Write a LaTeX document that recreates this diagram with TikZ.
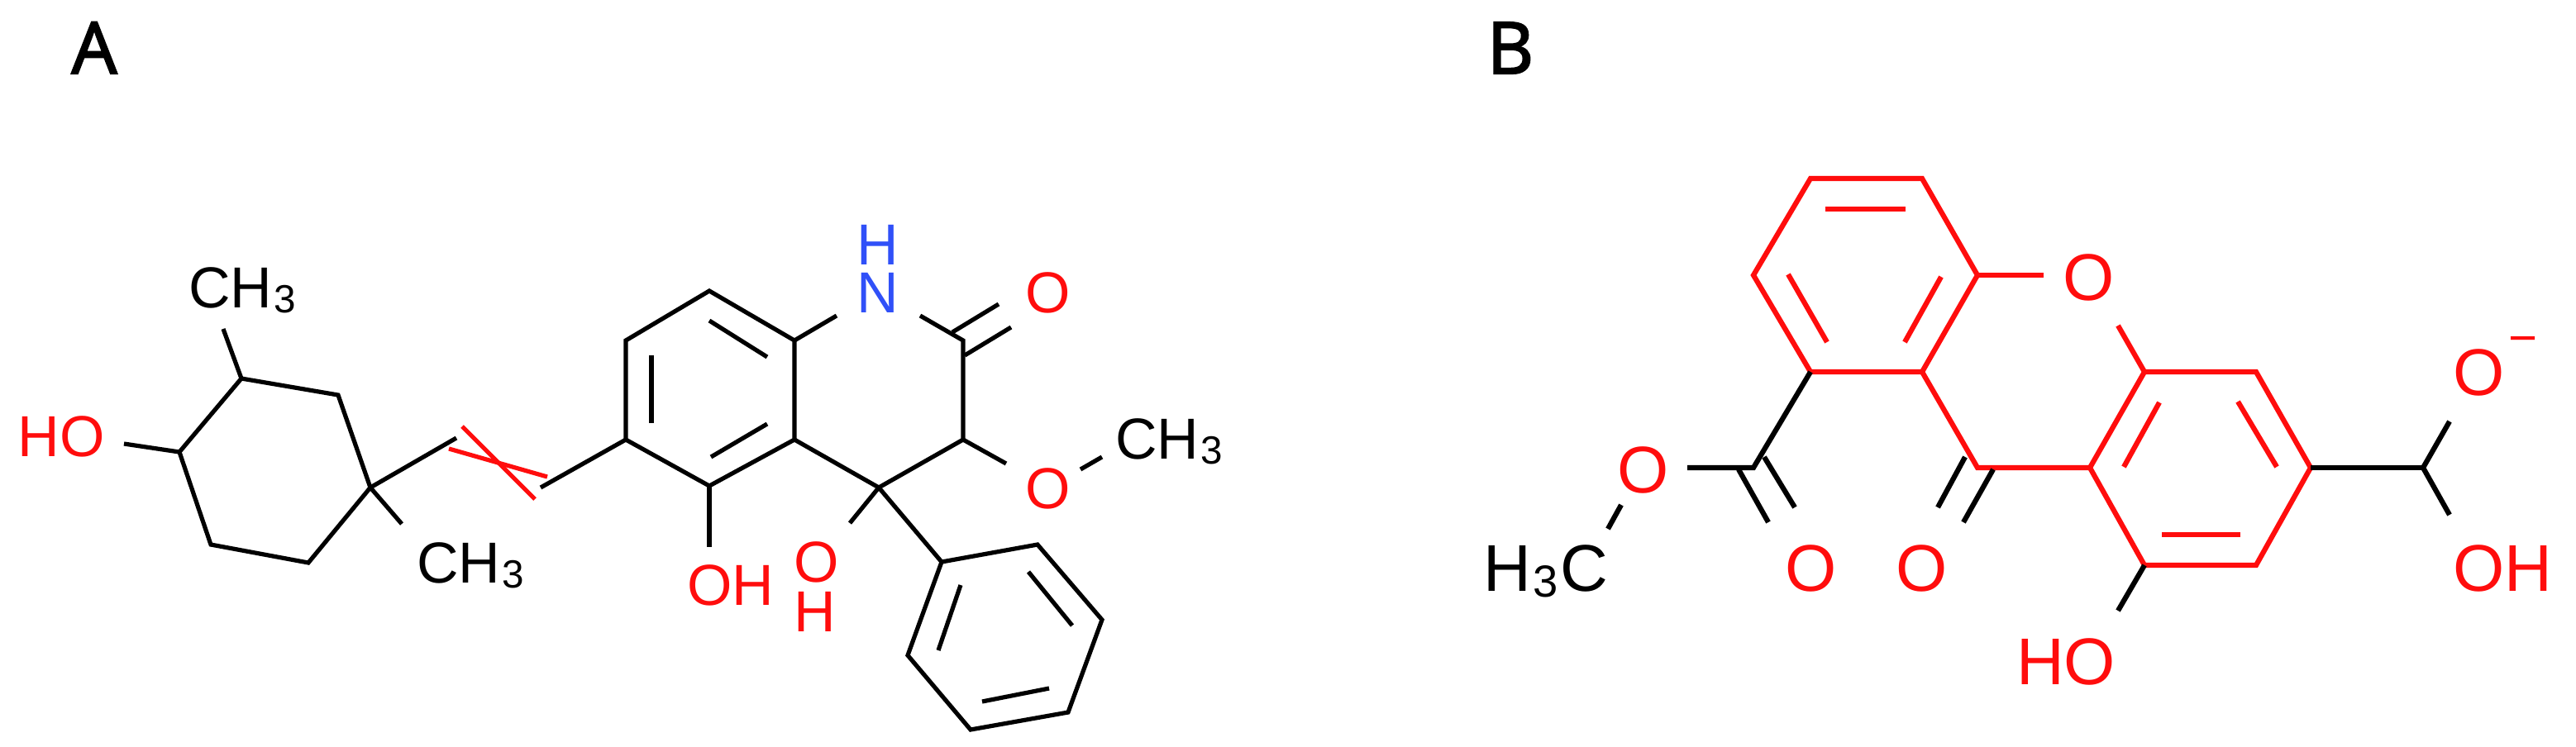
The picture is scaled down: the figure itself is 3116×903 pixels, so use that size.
\documentclass[tikz,border=0pt]{standalone}
\usepackage{fontspec}
\setmainfont{Liberation Sans}
\newfontfamily\panelfont[FakeBold=2.5]{Open Sans}
\definecolor{atomred}{RGB}{255,13,13}
\definecolor{atomblue}{RGB}{48,80,248}
\newcommand{\lowthree}{\kern.03em\raisebox{-.09em}{\scalebox{.68}{3}}}
\tikzset{
	bond/.style={draw=black, line width=1.3pt},
	hotbond/.style={draw=atomred, line width=1.3pt},
	bondB/.style={draw=black, line width=1.55pt},
	hotbondB/.style={draw=atomred, line width=1.55pt},
	atomlabel/.style={anchor=base, inner sep=0pt, font=\fontsize{17.5}{20}\selectfont},
	atomlabelB/.style={anchor=base, inner sep=0pt, font=\fontsize{20}{24}\selectfont},
	panel/.style={anchor=base, inner sep=0pt, font=\panelfont\fontsize{21.7}{26}\selectfont},
}
\begin{document}
\begin{tikzpicture}
[x=.25pt, y=-.25pt]
\useasboundingbox (0,0) rectangle (3116,903);
\node[panel] (panelA) at (114,89) {A};
\node[panel] (panelB) at (1827,89) {B};

% panel A, cyclohexane
\coordinate (ca) at (292,458); \coordinate (cb) at (409,478);
\coordinate (cc) at (448,590); \coordinate (cd) at (373,681);
\coordinate (ce) at (255,659); \coordinate (cf) at (217,547);
\coordinate (endHO) at (150,537); \coordinate (endMeTop) at (270,398);
\coordinate (endMeLow) at (486,634);
\draw[bond] (ca) -- (cb) -- (cc) -- (cd) -- (ce) -- (cf) -- cycle;
\draw[bond] (cf) -- (endHO);
\draw[bond] (ca) -- (endMeTop);
\draw[bond] (cc) -- (endMeLow);
\node[atomlabel, text=atomred] (hoA) at (74,552) {HO};
\node[atomlabel] (meTop) at (293,372) {CH\lowthree};
\node[atomlabel] (meLow) at (569,705) {CH\lowthree};

% panel A, chain
\coordinate (va) at (552,530); \coordinate (vb) at (654,590);
\coordinate (ra) at (543,543); \coordinate (rb) at (662,577);
\coordinate (rc) at (559,516); \coordinate (rd) at (647,604);
\draw[bond] (cc) -- (va);
\draw[hotbond] (ra) -- (rb);
\draw[hotbond] (rc) -- (rd);

% panel A, quinolinone
\coordinate (q1) at (757,412); \coordinate (q2) at (858,352);
\coordinate (q3) at (961,412); \coordinate (q4) at (961,532);
\coordinate (q5) at (858,588); \coordinate (q6) at (757,532);
\coordinate (q7) at (1063,590); \coordinate (q8) at (1165,532);
\coordinate (q9) at (1165,412);
\coordinate (endNa) at (1012,382); \coordinate (endNb) at (1113,382);
\draw[bond] (q1) -- (q2) -- (q3) -- (q4) -- (q5) -- (q6) -- cycle;
\draw[bond] (vb) -- (q6);
\draw[bond] (q3) -- (endNa);
\draw[bond] (endNb) -- (q9) -- (q8) -- (q7) -- (q4);
\coordinate (ia) at (858,388); \coordinate (ib) at (928,432);
\coordinate (ic) at (788,430); \coordinate (id) at (788,512);
\coordinate (ie) at (860,553); \coordinate (if) at (928,513);
\draw[bond] (ia) -- (ib);
\draw[bond] (ic) -- (id);
\draw[bond] (ie) -- (if);
\coordinate (dOa) at (1152,402); \coordinate (dOb) at (1208,368);
\coordinate (dOc) at (1167,430); \coordinate (dOd) at (1223,396);
\draw[bond] (dOa) -- (dOb);
\draw[bond] (dOc) -- (dOd);
\coordinate (endOHa) at (858,662); \coordinate (endOHb) at (1028,633);
\coordinate (endOMe) at (1217,561);
\coordinate (endMeOa) at (1307,568); \coordinate (endMeOb) at (1333,553);
\draw[bond] (q5) -- (endOHa);
\draw[bond] (q7) -- (endOHb);
\draw[bond] (q8) -- (endOMe);
\draw[bond] (endMeOa) -- (endMeOb);
\node[atomlabel, text=atomblue] (hN) at (1062,320) {H};
\node[atomlabel, text=atomblue] (nN) at (1062,378) {N};
\node[atomlabel, text=atomred] (oCarb) at (1268,378) {O};
\node[atomlabel, text=atomred] (oMeth) at (1268,615) {O};
\node[atomlabel] (meOA) at (1414,555) {CH\lowthree};
\node[atomlabel, text=atomred] (ohA) at (884,732) {OH};
\node[atomlabel, text=atomred] (oB) at (988,704) {O};
\node[atomlabel, text=atomred] (hB) at (986,764) {H};

% panel A, phenyl
\coordinate (p1) at (1139,680); \coordinate (p2) at (1255,659);
\coordinate (p3) at (1333,750); \coordinate (p4) at (1292,862);
\coordinate (p5) at (1174,883); \coordinate (p6) at (1098,793);
\draw[bond] (p1) -- (p2) -- (p3) -- (p4) -- (p5) -- (p6) -- cycle;
\draw[bond] (q7) -- (p1);
\coordinate (pa) at (1162,708); \coordinate (pb) at (1135,787);
\coordinate (pc) at (1244,692); \coordinate (pd) at (1297,757);
\coordinate (pe) at (1188,849); \coordinate (pf) at (1269,833);
\draw[bond] (pa) -- (pb);
\draw[bond] (pc) -- (pd);
\draw[bond] (pe) -- (pf);

% panel B, xanthone
\coordinate (x1) at (2190,216); \coordinate (x2) at (2325,216);
\coordinate (x3) at (2392,333); \coordinate (x4) at (2325,450);
\coordinate (x5) at (2190,450); \coordinate (x6) at (2121,333);
\coordinate (x7) at (2392,566); \coordinate (x8) at (2528,566);
\coordinate (x9) at (2594,450); \coordinate (x10) at (2729,450);
\coordinate (x11) at (2795,566); \coordinate (x12) at (2729,684);
\coordinate (x13) at (2594,684);
\coordinate (endOxa) at (2472,333); \coordinate (endOxb) at (2562,394);
\draw[hotbondB] (x1) -- (x2) -- (x3) -- (x4) -- (x5) -- (x6) -- cycle;
\draw[hotbondB] (x9) -- (x10) -- (x11) -- (x12) -- (x13) -- (x8) -- cycle;
\draw[hotbondB] (x4) -- (x7) -- (x8);
\draw[hotbondB] (x3) -- (endOxa);
\draw[hotbondB] (x9) -- (endOxb);
\coordinate (ja) at (2208,253); \coordinate (jb) at (2305,253);
\coordinate (jc) at (2163,332); \coordinate (jd) at (2210,414);
\coordinate (je) at (2348,335); \coordinate (jf) at (2304,414);
\coordinate (jg) at (2612,487); \coordinate (jh) at (2569,565);
\coordinate (ji) at (2707,486); \coordinate (jj) at (2754,565);
\coordinate (jk) at (2615,647); \coordinate (jl) at (2710,647);
\draw[hotbondB] (ja) -- (jb);
\draw[hotbondB] (jc) -- (jd);
\draw[hotbondB] (je) -- (jf);
\draw[hotbondB] (jg) -- (jh);
\draw[hotbondB] (ji) -- (jj);
\draw[hotbondB] (jk) -- (jl);

% panel B, black bonds
\coordinate (est) at (2121,566); \coordinate (endEstO) at (2041,566);
\coordinate (ea) at (2134,553); \coordinate (eb) at (2171,614);
\coordinate (ec) at (2103,568); \coordinate (ed) at (2139,632);
\coordinate (ka) at (2377,553); \coordinate (kb) at (2344,614);
\coordinate (kc) at (2411,568); \coordinate (kd) at (2375,632);
\coordinate (endMeBa) at (1961,611); \coordinate (endMeBb) at (1945,640);
\coordinate (endHOB) at (2562,739);
\coordinate (acid) at (2931,566); \coordinate (endAcUp) at (2963,510);
\coordinate (endAcLow) at (2963,623);
\draw[bondB] (x5) -- (est) -- (endEstO);
\draw[bondB] (ea) -- (eb);
\draw[bondB] (ec) -- (ed);
\draw[bondB] (ka) -- (kb);
\draw[bondB] (kc) -- (kd);
\draw[bondB] (endMeBa) -- (endMeBb);
\draw[bondB] (x13) -- (endHOB);
\draw[bondB] (x11) -- (acid);
\draw[bondB] (endAcUp) -- (acid) -- (endAcLow);
\node[atomlabelB] (meB) at (1870,715) {H\lowthree\kern.03em C};
\node[atomlabelB, text=atomred] (oEst) at (1988,596) {O};
\node[atomlabelB, text=atomred] (oDbl) at (2191,715) {O};
\node[atomlabelB, text=atomred] (oKet) at (2325,715) {O};
\node[atomlabelB, text=atomred] (oXan) at (2527,363) {O};
\node[atomlabelB, text=atomred] (hoB) at (2499,828) {HO};
\node[atomlabelB, text=atomred] (ohB) at (3027,715) {OH};
\node[atomlabelB, text=atomred] (oNeg) at (2999,478) {O};
\node[anchor=center, inner sep=0pt, text=atomred, font=\fontsize{15}{18}\selectfont] (minus) at (3052,418) {−};
\end{tikzpicture}
\end{document}
